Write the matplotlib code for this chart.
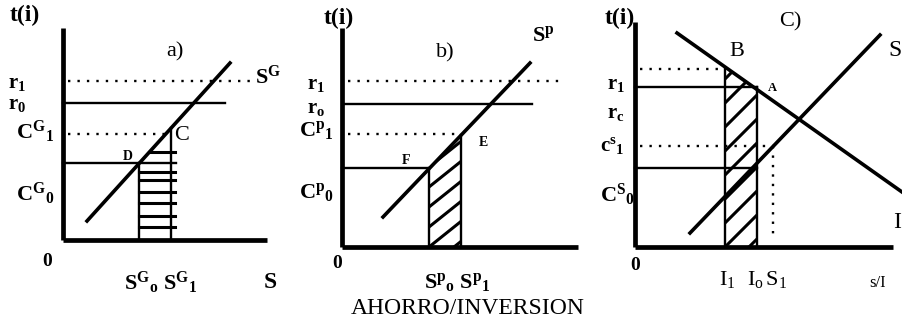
import numpy as np
import matplotlib
matplotlib.use('Agg')
import matplotlib.pyplot as plt
from matplotlib.patches import Polygon

plt.rcParams['font.family'] = 'Liberation Serif'
plt.rcParams['font.weight'] = 'bold'
plt.rcParams['mathtext.fontset'] = 'custom'
plt.rcParams['mathtext.rm'] = 'Liberation Serif:bold'
plt.rcParams['mathtext.it'] = 'Liberation Serif:italic:bold'
plt.rcParams['mathtext.bf'] = 'Liberation Serif:bold'
plt.rcParams['mathtext.sf'] = 'Liberation Serif:weight=normal'  # lighter labels

# panel a) government saving (local units, origin at the axes corner)
sg_x = [24, 167]
sg_y = [19, 177]
a_r1, a_r0, a_c1, a_c0 = 159, 137, 106, 77
a_s0, a_s1 = 76, 108
a_hatch = [88, 68, 60, 48, 37, 24, 13]

# panel b) private saving
sp_x = [41, 188]
sp_y = [30, 184]
b_r1, b_r0, b_c1, b_c0 = 166, 143, 113, 79
b_s0, b_s1 = 87, 119

# panel c) saving / investment
inv_x = [42, 267]
inv_y = [214, 55]
sav_x = [55, 245]
sav_y = [14, 212]
c_rb, c_r1, c_c1, c_c0 = 178, 160, 101, 79
c_i1, c_i0, c_s1 = 90, 122, 138

AXIS_LW = 3.4
CURVE_LW = 2.6
LEVEL_LW = 1.7
DOT = (0, (1, 3))
BIG = 17
MID = 16


def curve_at(xs, ys, x):
    return np.interp(x, xs, ys) if xs[0] < xs[1] else np.interp(x, xs[::-1], ys[::-1])


def make_axes(fig, left_px, width_px, xlim, ylim):
    ax = fig.add_axes([left_px / 903, 0, width_px / 903, 1])
    ax.set_xlim(*xlim)
    ax.set_ylim(*ylim)
    ax.axis('off')
    return ax


def draw_axes_lines(ax, top, right):
    ax.plot([0, 0], [0, top], color='black', lw=AXIS_LW, solid_capstyle='butt')
    ax.plot([0, right], [0, 0], color='black', lw=AXIS_LW, solid_capstyle='butt')


def diag_hatch(ax, poly_pts, slope, step, x0, x1):
    poly = Polygon(poly_pts, closed=True, fill=False, lw=0)
    ax.add_patch(poly)
    for k in np.arange(-120, 240, step):
        line, = ax.plot([x0, x1], [k, k + slope * (x1 - x0)], color='black', lw=2.2)
        line.set_clip_path(poly)


fig = plt.figure(figsize=(9.03, 3.21), dpi=100)
fig.patch.set_facecolor('white')

# ---- a) ----
ax = make_axes(fig, 0, 300, (-63, 237), (-81, 240))
draw_axes_lines(ax, 212, 204)
ax.plot(sg_x, sg_y, color='black', lw=CURVE_LW)
ax.plot([5, 187], [a_r1, a_r1], color='black', lw=LEVEL_LW, ls=DOT)
ax.plot([0, 162], [a_r0, a_r0], color='black', lw=LEVEL_LW)
ax.plot([5, a_s1], [a_c1, a_c1], color='black', lw=LEVEL_LW, ls=DOT)
ax.plot([0, a_s1 + 5], [a_c0, a_c0], color='black', lw=LEVEL_LW)
ax.plot([a_s0, a_s0], [0, a_c0], color='black', lw=LEVEL_LW)
ax.plot([a_s1, a_s1], [0, curve_at(sg_x, sg_y, a_s1)], color='black', lw=LEVEL_LW)
for hy in a_hatch:
    xl = max(a_s0, curve_at(sg_y, sg_x, hy))
    ax.plot([xl, a_s1 + 4], [hy, hy], color='black', lw=2.2)
ax.text(-38, 225, 't(i)', fontsize=BIG, ha='center', va='center')
ax.text(112, 188, 'a)', fontsize=MID, ha='center', va='center', fontweight='normal')
ax.text(192, 163, r'$\mathrm{S^{G}}$', fontsize=MID, ha='left', va='center')
ax.text(-55, 157, r'$\mathrm{r_{1}}$', fontsize=15, ha='left', va='center')
ax.text(-55, 136, r'$\mathrm{r_{0}}$', fontsize=15, ha='left', va='center')
ax.text(-47, 108, r'$\mathrm{C^{G}{}_{1}}$', fontsize=MID, ha='left', va='center')
ax.text(-47, 46, r'$\mathrm{C^{G}{}_{0}}$', fontsize=MID, ha='left', va='center')
ax.text(65, 83, 'D', fontsize=10, ha='center', va='center')
ax.text(119, 105, 'C', fontsize=MID, ha='center', va='center', fontweight='normal')
ax.text(-16, -21, '0', fontsize=14, ha='center', va='center')
ax.text(98, -43, r'$\mathrm{S^{G}{}_{o}\ S^{G}{}_{1}}$', fontsize=MID, ha='center', va='center')
ax.text(207, -43, 'S', fontsize=BIG, ha='center', va='center')

# ---- b) ----
ax = make_axes(fig, 300, 300, (-42, 258), (-74, 247))
draw_axes_lines(ax, 219, 236)
ax.plot(sp_x, sp_y, color='black', lw=CURVE_LW)
ax.plot([6, 218], [b_r1, b_r1], color='black', lw=LEVEL_LW, ls=DOT)
ax.plot([3, 190], [b_r0, b_r0], color='black', lw=LEVEL_LW)
ax.plot([6, b_s1 - 4], [b_c1, b_c1], color='black', lw=LEVEL_LW, ls=DOT)
ax.plot([0, b_s0], [b_c0, b_c0], color='black', lw=LEVEL_LW)
ax.plot([b_s0, b_s0], [0, b_c0], color='black', lw=LEVEL_LW)
ax.plot([b_s1, b_s1], [0, curve_at(sp_x, sp_y, b_s1)], color='black', lw=LEVEL_LW)
diag_hatch(ax, [(b_s0, 0), (b_s1, 0), (b_s1, curve_at(sp_x, sp_y, b_s1)),
                (b_s0, curve_at(sp_x, sp_y, b_s0))], 0.8, 20, b_s0, b_s1)
ax.text(-3, 229, 't(i)', fontsize=BIG, ha='center', va='center')
ax.text(103, 194, 'b)', fontsize=MID, ha='center', va='center', fontweight='normal')
ax.text(201, 211, r'$\mathrm{S^{p}}$', fontsize=MID, ha='center', va='center')
ax.text(-35, 163, r'$\mathrm{r_{1}}$', fontsize=15, ha='left', va='center')
ax.text(-35, 139, r'$\mathrm{r_{o}}$', fontsize=15, ha='left', va='center')
ax.text(-43, 117, r'$\mathrm{C^{p}{}_{1}}$', fontsize=MID, ha='left', va='center')
ax.text(-43, 55, r'$\mathrm{C^{p}{}_{0}}$', fontsize=MID, ha='left', va='center')
ax.text(64, 87, 'F', fontsize=10, ha='center', va='center')
ax.text(141, 105, 'E', fontsize=10, ha='center', va='center')
ax.text(-5, -16, '0', fontsize=14, ha='center', va='center')
ax.text(115, -35, r'$\mathrm{S^{p}{}_{o}\ S^{p}{}_{1}}$', fontsize=MID, ha='center', va='center')
ax.text(126, -61, 'AHORRO/INVERSION', fontsize=17, ha='center', va='center',
        fontweight='normal')

# ---- c) ----
ax = make_axes(fig, 600, 303, (-35, 268), (-74, 247))
draw_axes_lines(ax, 225, 258)
ax.plot(inv_x, inv_y, color='black', lw=CURVE_LW)
ax.plot(sav_x, sav_y, color='black', lw=CURVE_LW)
ax.plot([5, c_i1], [c_rb, c_rb], color='black', lw=LEVEL_LW, ls=DOT)
ax.plot([0, c_i0], [c_r1, c_r1], color='black', lw=LEVEL_LW)
ax.plot([5, c_s1], [c_c1, c_c1], color='black', lw=LEVEL_LW, ls=DOT)
ax.plot([c_s1, c_s1], [c_c1, 10], color='black', lw=LEVEL_LW, ls=DOT)
ax.plot([0, c_i0], [c_c0, c_c0], color='black', lw=LEVEL_LW)
ax.plot([c_i1, c_i1], [0, c_rb], color='black', lw=LEVEL_LW)
ax.plot([c_i0, c_i0], [0, c_r1], color='black', lw=LEVEL_LW)
diag_hatch(ax, [(c_i1, 0), (c_i0, 0), (c_i0, curve_at(inv_x, inv_y, c_i0)),
                (c_i1, curve_at(inv_x, inv_y, c_i1))], 1.0, 24, c_i1, c_i0)
ax.text(-15, 229, 't(i)', fontsize=BIG, ha='center', va='center')
ax.text(155, 225, 'C)', fontsize=MID, ha='center', va='center', fontweight='normal')
ax.text(102, 196, 'B', fontsize=MID, ha='center', va='center', fontweight='normal')
ax.text(137, 159, 'A', fontsize=9, ha='center', va='center')
ax.text(253, 197, 'S', fontsize=BIG, ha='left', va='center', fontweight='normal')
ax.text(262, 24, 'I', fontsize=BIG, ha='center', va='center', fontweight='normal')
ax.text(-28, 163, r'$\mathrm{r_{1}}$', fontsize=15, ha='left', va='center')
ax.text(-28, 134, r'$\mathrm{r_{c}}$', fontsize=15, ha='left', va='center')
ax.text(-35, 102, r'$\mathrm{c^{s}{}_{1}}$', fontsize=15, ha='left', va='center')
ax.text(-35, 52, r'$\mathrm{C^{S}{}_{0}}$', fontsize=MID, ha='left', va='center')
ax.text(0, -18, '0', fontsize=14, ha='center', va='center')
ax.text(92, -32, r'$\mathsf{I_{1}}$', fontsize=MID, ha='center', va='center')
ax.text(132, -32, r'$\mathsf{I_{o}\,S_{1}}$', fontsize=MID, ha='center', va='center')
ax.text(243, -36, 's/I', fontsize=12, ha='center', va='center', fontweight='normal')

fig.savefig('out.png', dpi=100, facecolor='white')
